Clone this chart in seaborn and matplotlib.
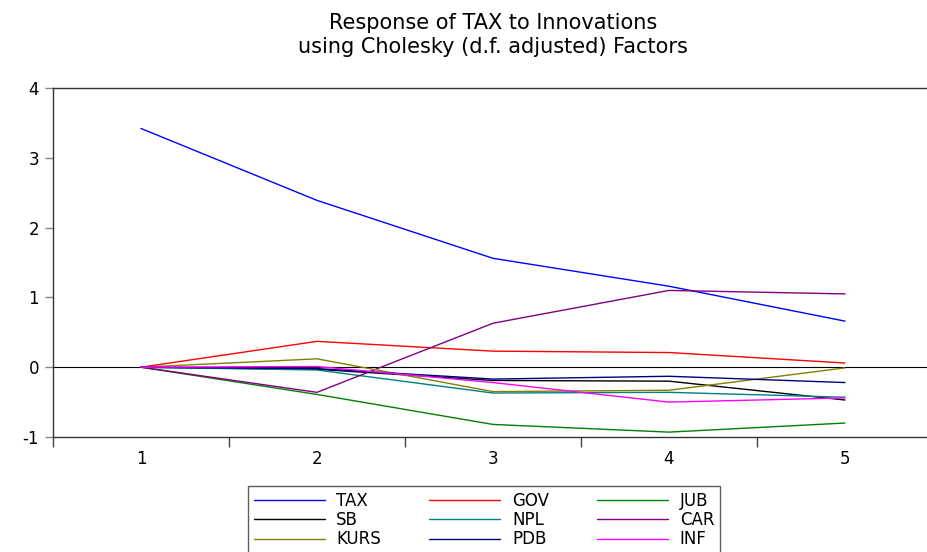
import matplotlib
matplotlib.use("Agg")
import matplotlib.pyplot as plt
import seaborn as sns
import pandas as pd

# periods
periodos = [1, 2, 3, 4, 5]

# responses
tax = [3.42, 2.39, 1.56, 1.16, 0.66]
gov = [0.0, 0.37, 0.23, 0.21, 0.06]
jub = [0.0, -0.39, -0.82, -0.93, -0.80]
sb = [0.0, -0.03, -0.19, -0.20, -0.47]
npl = [0.0, -0.04, -0.37, -0.36, -0.43]
car = [0.0, -0.36, 0.63, 1.10, 1.05]
kurs = [0.0, 0.12, -0.35, -0.33, -0.01]
pdb = [0.0, -0.02, -0.17, -0.13, -0.22]
inf = [0.0, 0.01, -0.22, -0.50, -0.44]

series = {"TAX": tax, "GOV": gov, "JUB": jub, "SB": sb, "NPL": npl,
          "CAR": car, "KURS": kurs, "PDB": pdb, "INF": inf}
cores = {"TAX": "#0000ff", "GOV": "#ff0000", "JUB": "#008000",
         "SB": "#000000", "NPL": "#008080", "CAR": "#800080",
         "KURS": "#808000", "PDB": "#000080", "INF": "#ff00ff"}

linhas = []
for nome, vals in series.items():
    for p, v in zip(periodos, vals):
        linhas.append({"Periodo": p, "Valor": v, "Serie": nome})
df = pd.DataFrame(linhas)

sns.set_style("white")
plt.rcParams["font.family"] = ["DejaVu Sans"]
plt.rcParams["axes.unicode_minus"] = False
plt.rcParams["text.color"] = "black"

fig = plt.figure(figsize=(9.27, 5.52), dpi=100)
ax = fig.add_axes([53 / 927, 115 / 552, 880 / 927, 349 / 552])

ax.axhline(0, color="black", lw=0.8, zorder=1)
sns.lineplot(data=df, x="Periodo", y="Valor", hue="Serie", palette=cores,
             linewidth=1, ax=ax, legend=False, zorder=2)

ax.set_xlim(0.5, 5.5)
ax.set_ylim(-1, 4)
ax.set_xticks([0.5, 1.5, 2.5, 3.5, 4.5])
ax.set_xticklabels([])
ax.set_xticks(periodos, minor=True)
ax.set_xticklabels([str(p) for p in periodos], minor=True)
ax.tick_params(axis="x", which="major", direction="out", length=7,
               width=1, color="#444444", bottom=True)
ax.tick_params(axis="x", which="minor", length=0, labelsize=12, pad=9,
               labelcolor="black")
ax.set_yticks([-1, 0, 1, 2, 3, 4])
ax.tick_params(axis="y", direction="out", length=6, width=1,
               color="#888888", left=True, labelsize=12, pad=4,
               labelcolor="black")
ax.set_xlabel("")
ax.set_ylabel("")
for s in ax.spines.values():
    s.set_color("#333333")
    s.set_linewidth(1)

fig.text(493 / 927, 1 - 35 / 552,
         "Response of TAX to Innovations\nusing Cholesky (d.f. adjusted) Factors",
         ha="center", va="center", fontsize=15, linespacing=1.3,
         color="black")

ordem = ["TAX", "SB", "KURS", "GOV", "NPL", "PDB", "JUB", "CAR", "INF"]
handles = [plt.Line2D([], [], color=cores[n], lw=1) for n in ordem]
leg = fig.legend(handles, ordem, ncol=3, loc="upper left",
                 bbox_to_anchor=(248 / 927, 1 - 486 / 552),
                 fontsize=12, handlelength=4.25, handletextpad=0.7,
                 columnspacing=2.9, labelspacing=0.08, frameon=True,
                 fancybox=False, borderpad=0.35, borderaxespad=0)
leg.get_frame().set_edgecolor("#333333")
leg.get_frame().set_linewidth(1)
for t in leg.get_texts():
    t.set_color("black")

plt.savefig("out.png", dpi=100)
plt.close()
